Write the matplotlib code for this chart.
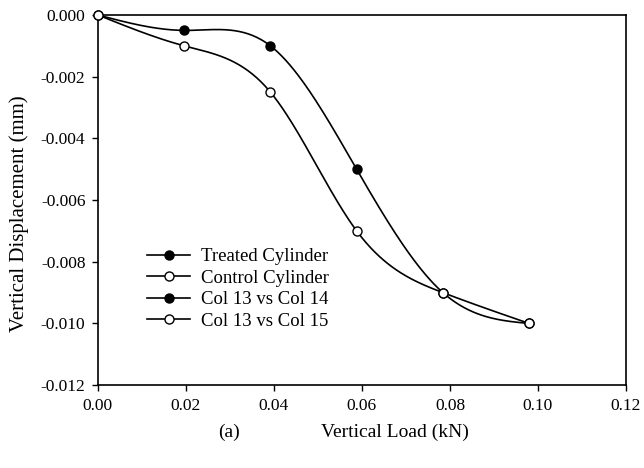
import numpy as np
import matplotlib
matplotlib.use("Agg")
import matplotlib.pyplot as plt
from matplotlib.lines import Line2D

plt.rcParams['font.family'] = ['Liberation Serif', 'DejaVu Serif']

load_kn = [0.0, 0.0196, 0.0392, 0.0588, 0.0784, 0.098]
treated_mm = [0.0, -0.0005, -0.001, -0.005, -0.009, -0.010]
control_mm = [0.0, -0.001, -0.0025, -0.007, -0.009, -0.010]
legend_labels = ["Treated Cylinder", "Control Cylinder", "Col 13 vs Col 14", "Col 13 vs Col 15"]
x_ticks = [0.00, 0.02, 0.04, 0.06, 0.08, 0.10, 0.12]
y_ticks = [0.000, -0.002, -0.004, -0.006, -0.008, -0.010, -0.012]


def natural_spline(x, y, n=300):
    x = np.asarray(x, float)
    y = np.asarray(y, float)
    m = len(x)
    h = np.diff(x)
    A = np.zeros((m, m))
    b = np.zeros(m)
    A[0, 0] = A[-1, -1] = 1.0
    for i in range(1, m - 1):
        A[i, i - 1] = h[i - 1]
        A[i, i] = 2 * (h[i - 1] + h[i])
        A[i, i + 1] = h[i]
        b[i] = 6 * ((y[i + 1] - y[i]) / h[i] - (y[i] - y[i - 1]) / h[i - 1])
    M = np.linalg.solve(A, b)
    xs = np.linspace(x[0], x[-1], n)
    idx = np.clip(np.searchsorted(x, xs) - 1, 0, m - 2)
    x0, x1 = x[idx], x[idx + 1]
    hh = x1 - x0
    t0, t1 = x1 - xs, xs - x0
    ys = (M[idx] * t0 ** 3 / (6 * hh) + M[idx + 1] * t1 ** 3 / (6 * hh)
          + (y[idx] / hh - M[idx] * hh / 6) * t0
          + (y[idx + 1] / hh - M[idx + 1] * hh / 6) * t1)
    return xs, ys


fig = plt.figure(figsize=(6.44, 4.68), dpi=100)
ax = fig.add_axes([0.152, 0.177, 0.820, 0.791])

lw = 1.2
ms = 6.5
for ys, face in [(treated_mm, 'black'), (control_mm, 'white')]:
    sx, sy = natural_spline(load_kn, ys)
    ax.plot(sx, sy, color='black', lw=lw, zorder=2, clip_on=False)
    ax.plot(load_kn, ys, ls='none', marker='o', ms=ms, mfc=face, mec='black',
            mew=1.0, zorder=3, clip_on=False)

ax.set_xlim(0, 0.12)
ax.set_ylim(-0.012, 0.0)
ax.set_xticks(x_ticks)
ax.set_xticklabels([f"{v:.2f}" for v in x_ticks])
ax.set_yticks(y_ticks)
ax.set_yticklabels([f"{v:.3f}" for v in y_ticks])
ax.tick_params(direction='out', length=4, width=1.0, labelsize=12.5, pad=5)
for s in ax.spines.values():
    s.set_linewidth(1.2)

fig.text(0.029, 0.543, "Vertical Displacement (mm)", fontsize=15,
         rotation=90, ha='center', va='center')
fig.text(0.355, 0.077, "(a)", fontsize=14, ha='center', va='center')
fig.text(0.614, 0.077, "Vertical Load (kN)", fontsize=14, ha='center', va='center')

handles = []
for face in ['black', 'white', 'black', 'white']:
    handles.append(Line2D([], [], color='black', lw=lw, marker='o', ms=ms,
                          mfc=face, mec='black', mew=1.0))
ax.legend(handles, legend_labels, loc='upper left', bbox_to_anchor=(0.093, 0.370),
          frameon=False, fontsize=13.5, handlelength=2.3, handletextpad=0.6,
          labelspacing=0.23, borderaxespad=0, borderpad=0)

fig.savefig("out.png", dpi=100)
